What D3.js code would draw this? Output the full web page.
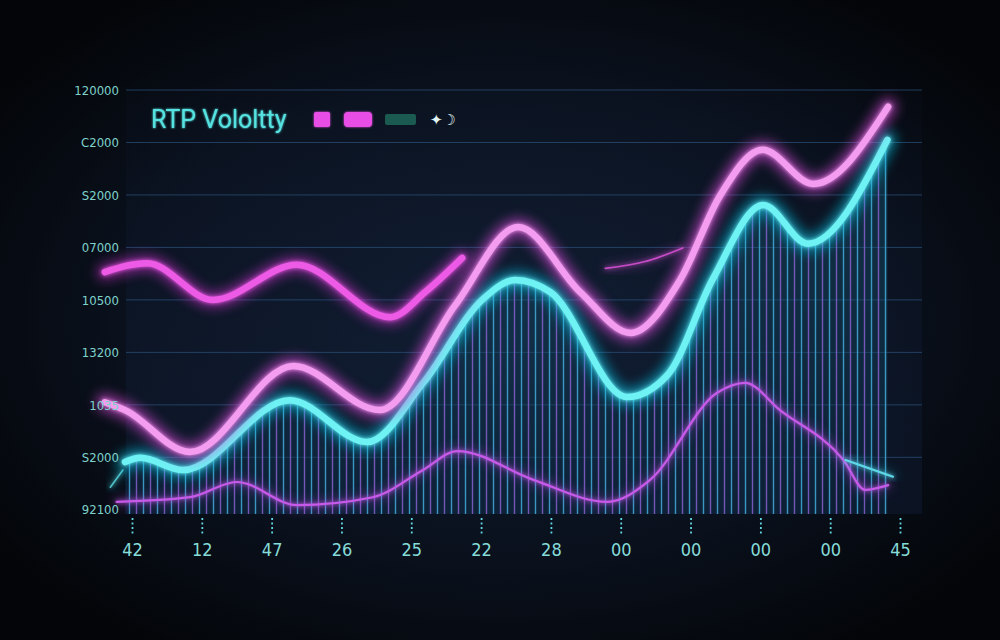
<!DOCTYPE html>
<html><head><meta charset="utf-8">
<script src="https://cdn.jsdelivr.net/npm/d3@7"></script>
<style>html,body{margin:0;padding:0;background:#06090e;}svg{display:block;}</style>
</head><body>
<script>
// ---------- data ----------
const xTickValues = [0,1,2,3,4,5,6,7,8,9,10,11];
const xTickLabels = ["42","12","47","26","25","22","28","00","00","00","00","45"];
const yTickValues = [0,1,2,3,4,5,6,7,8];
const yTickLabels = ["92100","S2000","1035","13200","10500","07000","S2000","C2000","120000"];
const legendTitle = "RTP Vololtty";

// main pink line [x position, level]
const pinkMainX = [-0.39,-0.10,0.83,2.31,3.55,4.63,5.53,6.42,7.14,7.85,8.42,9.03,9.76,10.83];
const pinkMainY = [2.05,1.90,1.10,2.74,1.90,3.90,5.39,4.15,3.37,4.38,5.98,6.86,6.21,7.68];
// cyan (area) line
const cyanX = [-0.10,0.12,0.73,2.26,3.37,4.17,5.03,5.49,5.99,7.09,7.67,8.32,9.04,9.68,10.82];
const cyanY = [0.91,0.99,0.76,2.09,1.29,2.42,4.02,4.38,4.15,2.15,2.57,4.40,5.81,5.07,7.05];
// upper magenta segment
const magentaX = [-0.39,0.22,1.16,2.36,3.70,4.20,4.73];
const magentaY = [4.53,4.70,4.00,4.67,3.67,4.15,4.80];
// thin lower violet line
const violetX = [-0.22,0.83,1.50,2.36,3.45,4.17,4.66,5.75,6.81,7.42,8.38,8.78,9.28,10.19,10.50,10.83];
const violetY = [0.15,0.24,0.53,0.09,0.24,0.76,1.12,0.57,0.15,0.57,2.23,2.42,1.90,0.95,0.38,0.47];
// small stray strokes
const pinkTailX = [6.78,7.35,7.89];
const pinkTailY = [4.60,4.73,4.99];
const cyanTailX = [10.22,10.90];
const cyanTailY = [0.95,0.63];
const cyanStubX = [-0.31,-0.13];
const cyanStubY = [0.43,0.76];

// ---------- layout ----------
const W = 1000, H = 640;
const plotLeft = 126, plotRight = 922, plotTop = 90, axisY = 514;
const x = d3.scaleLinear().domain([0, 11]).range([132, 900]);
const y = d3.scaleLinear().domain([0, 8]).range([509.8, plotTop]);
const zip = (xs, ys) => xs.map((v, i) => [v, ys[i]]);

const svg = d3.select("body").append("svg").attr("width", W).attr("height", H);
const defs = svg.append("defs");

const bg = defs.append("radialGradient").attr("id", "bg").attr("cx", "50%").attr("cy", "50%").attr("r", "62%");
bg.append("stop").attr("offset", "0%").attr("stop-color", "#0f1b2d");
bg.append("stop").attr("offset", "60%").attr("stop-color", "#0a111d");
bg.append("stop").attr("offset", "100%").attr("stop-color", "#030508");

function glow(id, sd) {
  const f = defs.append("filter").attr("id", id).attr("x", "-30%").attr("y", "-30%").attr("width", "160%").attr("height", "160%");
  f.append("feGaussianBlur").attr("stdDeviation", sd).attr("result", "b");
  const m = f.append("feMerge");
  m.append("feMergeNode").attr("in", "b");
  m.append("feMergeNode").attr("in", "SourceGraphic");
}
glow("g2", 2); glow("g1", 1.2);
defs.append("filter").attr("id", "blur6").attr("x", "-30%").attr("y", "-30%").attr("width", "160%").attr("height", "160%")
  .append("feGaussianBlur").attr("stdDeviation", 6);

const pat = defs.append("pattern").attr("id", "hatch").attr("patternUnits", "userSpaceOnUse")
  .attr("x", plotLeft).attr("y", 0).attr("width", 14).attr("height", 10);
pat.append("line").attr("x1", 3.5).attr("x2", 3.5).attr("y1", 0).attr("y2", 10).attr("stroke", "#42acd8").attr("stroke-width", 1.4).attr("opacity", 0.85);
pat.append("line").attr("x1", 10.5).attr("x2", 10.5).attr("y1", 0).attr("y2", 10).attr("stroke", "#8c62d6").attr("stroke-width", 1.4).attr("opacity", 0.8);

const ag = defs.append("linearGradient").attr("id", "areaFill").attr("x1", 0).attr("y1", 0).attr("x2", 0).attr("y2", 1);
ag.append("stop").attr("offset", "0%").attr("stop-color", "#1a6a8a").attr("stop-opacity", 0.35);
ag.append("stop").attr("offset", "100%").attr("stop-color", "#0c2c48").attr("stop-opacity", 0.4);

const pg = defs.append("linearGradient").attr("id", "plotTint").attr("x1", 0).attr("y1", 0).attr("x2", 0).attr("y2", 1);
pg.append("stop").attr("offset", "0%").attr("stop-color", "#16284a").attr("stop-opacity", 0.05);
pg.append("stop").attr("offset", "100%").attr("stop-color", "#16284a").attr("stop-opacity", 0.3);

svg.append("rect").attr("width", W).attr("height", H).attr("fill", "url(#bg)");
svg.append("rect").attr("x", plotLeft).attr("y", plotTop).attr("width", plotRight - plotLeft).attr("height", axisY - plotTop)
  .attr("fill", "url(#plotTint)");

// grid
svg.append("g").selectAll("line").data(yTickValues.filter(v => v > 0)).join("line")
  .attr("x1", plotLeft).attr("x2", plotRight).attr("y1", d => y(d)).attr("y2", d => y(d))
  .attr("stroke", "#2a4f78").attr("stroke-width", 1).attr("opacity", 0.75);

// area with hatch
const curve = d3.curveMonotoneX;
const cyanData = zip(cyanX, cyanY);
const area = d3.area().x(d => x(d[0])).y0(axisY).y1(d => y(d[1])).curve(curve);
svg.append("path").datum(cyanData).attr("d", area).attr("fill", "url(#areaFill)");
svg.append("path").datum(cyanData).attr("d", area).attr("fill", "url(#hatch)");

const line = d3.line().x(d => x(d[0])).y(d => y(d[1])).curve(curve);

function neon(data, halo, core, w, haloW, haloOp) {
  svg.append("path").datum(data).attr("d", line).attr("fill", "none").attr("stroke", halo)
    .attr("stroke-width", haloW).attr("stroke-linecap", "round").attr("opacity", haloOp).attr("filter", "url(#blur6)");
  svg.append("path").datum(data).attr("d", line).attr("fill", "none").attr("stroke", core)
    .attr("stroke-width", w).attr("stroke-linecap", "round").attr("filter", "url(#g2)");
}

neon(zip(violetX, violetY), "#b040e0", "#c75ae8", 2.2, 6, 0.5);
neon(zip(cyanTailX, cyanTailY), "#20c8e0", "#5fd8e8", 2.2, 5, 0.5);
neon(zip(cyanStubX, cyanStubY), "#20c8e0", "#4fc0c8", 1.6, 4, 0.4);
neon(zip(pinkTailX, pinkTailY), "#c040c8", "#c84cc8", 1.6, 4, 0.5);
neon(zip(magentaX, magentaY), "#d030d0", "#ec5ae6", 6.5, 16, 0.55);
neon(cyanData, "#10c0e0", "#6ef2f4", 6.5, 18, 0.6);
neon(zip(pinkMainX, pinkMainY), "#d848d8", "#f49cf0", 6.5, 18, 0.6);

// axes lines
svg.append("line").attr("x1", plotLeft).attr("x2", plotLeft).attr("y1", y(7.94)).attr("y2", axisY + 1)
  .attr("stroke", "#4ae6f0").attr("stroke-width", 2.5).attr("filter", "url(#g2)");
svg.append("line").attr("x1", plotLeft - 4).attr("x2", plotRight).attr("y1", axisY).attr("y2", axisY)
  .attr("stroke", "#4ae6f0").attr("stroke-width", 2.5).attr("filter", "url(#g2)");

// x axis ticks & labels
const xa = svg.append("g").attr("transform", `translate(0,${axisY + 4})`)
  .call(d3.axisBottom(x).tickValues(xTickValues).tickFormat((d, i) => xTickLabels[i]).tickSize(18).tickPadding(7));
xa.select(".domain").remove();
xa.selectAll(".tick line").attr("stroke", "#5fd6e0").attr("stroke-width", 1.8).attr("stroke-dasharray", "2,2.5");
xa.selectAll(".tick text").attr("fill", "#86dcd8").attr("font-size", 18)
  .attr("font-family", "'Liberation Sans Narrow','DejaVu Sans Condensed',sans-serif");

// y axis labels
const ya = svg.append("g").attr("transform", `translate(${plotLeft},0)`)
  .call(d3.axisLeft(y).tickValues(yTickValues).tickFormat((d, i) => yTickLabels[i]).tickSize(0).tickPadding(7));
ya.select(".domain").remove();
ya.selectAll(".tick text").attr("fill", "#7fd2cc").attr("font-size", 13)
  .attr("font-family", "'Liberation Sans Narrow','DejaVu Sans Condensed',sans-serif");

// legend
const lg = svg.append("g");
lg.append("text").attr("x", 151).attr("y", 128).text(legendTitle)
  .attr("fill", "#55e2e0").attr("font-size", 25).attr("font-family", "Roboto, 'Open Sans', sans-serif")
  .attr("filter", "url(#g1)");
lg.append("rect").attr("x", 314).attr("y", 112).attr("width", 16).attr("height", 15).attr("rx", 2).attr("fill", "#e84ee6").attr("filter", "url(#g1)");
lg.append("rect").attr("x", 344).attr("y", 112).attr("width", 28).attr("height", 15).attr("rx", 4).attr("fill", "#e84ee6").attr("filter", "url(#g1)");
lg.append("rect").attr("x", 385).attr("y", 114).attr("width", 31).attr("height", 11).attr("rx", 2).attr("fill", "#1b5a50");
lg.append("text").attr("x", 430).attr("y", 125).text("✦☽").attr("fill", "#e0f4f4").attr("font-size", 15)
  .attr("font-family", "'DejaVu Sans', sans-serif");
</script>
</body></html>
